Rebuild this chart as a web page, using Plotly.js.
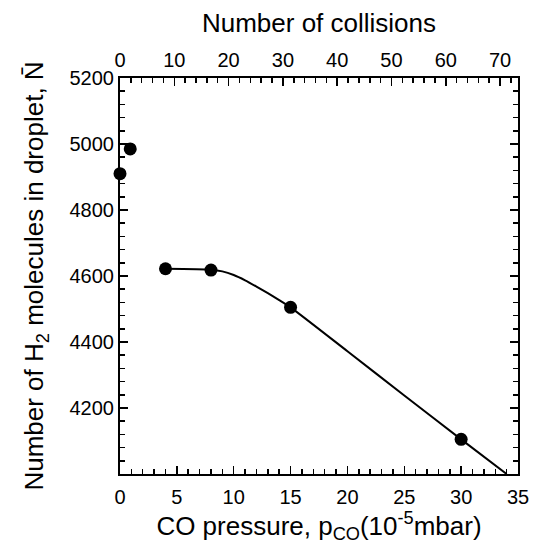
<!DOCTYPE html>
<html><head><meta charset="utf-8">
<script src="https://cdn.plot.ly/plotly-3.0.1.min.js"></script>
<style>body{margin:0;background:#fff}#chart{width:537px;height:555px}</style>
</head><body><div id="chart"></div>
<script>
// measured points: CO pressure (1e-5 mbar) vs number of H2 molecules
const pressure = [0, 0.9, 4, 8, 15, 30];
const moleculesN = [4910, 4985, 4622, 4618, 4505, 4105];
// guide line drawn through the data
const fitPressure = [4, 8, 9, 10, 11, 12, 13, 14, 15, 20, 25, 30, 34];
const fitN = [4622, 4619, 4614, 4603, 4587, 4568, 4548, 4527, 4505, 4372, 4238, 4105, 4000];
// tick labels
const yTicks = [4200, 4400, 4600, 4800, 5000, 5200];
const xTicks = [0, 5, 10, 15, 20, 25, 30, 35];
const topTicks = [0, 10, 20, 30, 40, 50, 60, 70];

const FONT = 'Liberation Sans, Arial, sans-serif';
const traces = [
  {x: fitPressure, y: fitN, mode: 'lines', line: {color: '#000', width: 2, shape: 'spline', smoothing: 0.6},
   hoverinfo: 'skip', showlegend: false, cliponaxis: true},
  {x: pressure, y: moleculesN, mode: 'markers', marker: {color: '#000', size: 13},
   showlegend: false, cliponaxis: false},
  {x: [0], y: [null], xaxis: 'x2', yaxis: 'y', mode: 'markers', showlegend: false, hoverinfo: 'skip'}
];
const tickfont = {family: FONT, size: 20, color: '#000'};
const titlefont = {family: FONT, size: 26, color: '#000'};
const layout = {
  width: 537, height: 555,
  margin: {l: 120, r: 19, t: 78, b: 81},
  paper_bgcolor: '#fff', plot_bgcolor: '#fff',
  font: {family: FONT, color: '#000'},
  xaxis: {
    range: [0, 35], tickmode: 'array', tickvals: xTicks, ticktext: xTicks.map(String),
    ticks: 'inside', ticklen: 8, tickwidth: 1.5, tickcolor: '#000',
    minor: {dtick: 1, ticks: 'inside', ticklen: 5, tickwidth: 1.5, tickcolor: '#000'},
    showline: true, linecolor: '#000', linewidth: 2, mirror: true,
    showgrid: false, zeroline: false, tickfont: tickfont, ticklabelstandoff: 4,
    title: {text: 'CO pressure, p<sub>CO</sub>(10<sup>-5</sup>mbar)', font: titlefont, standoff: 6}
  },
  xaxis2: {
    overlaying: 'x', side: 'top', anchor: 'y', range: [0, 73.3],
    tickmode: 'array', tickvals: topTicks, ticktext: topTicks.map(String),
    ticks: 'inside', ticklen: 8, tickwidth: 1.5, tickcolor: '#000',
    minor: {dtick: 2, ticks: 'inside', ticklen: 5, tickwidth: 1.5, tickcolor: '#000'},
    showline: false, showgrid: false, zeroline: false, tickfont: tickfont, ticklabelstandoff: 6,
    title: {text: 'Number of collisions', font: titlefont, standoff: 8}
  },
  yaxis: {
    range: [4000, 5200], tickmode: 'array', tickvals: yTicks, ticktext: yTicks.map(String),
    ticks: 'inside', ticklen: 8, tickwidth: 1.5, tickcolor: '#000',
    minor: {dtick: 40, tick0: 4000, ticks: 'inside', ticklen: 5, tickwidth: 1.5, tickcolor: '#000'},
    showline: true, linecolor: '#000', linewidth: 2, mirror: 'ticks',
    showgrid: false, zeroline: false, tickfont: tickfont, ticklabelstandoff: 0,
    title: {text: 'Number of H<sub>2</sub> molecules in droplet, N\u0304', font: titlefont, standoff: 18}
  }
};
Plotly.newPlot('chart', traces, layout, {staticPlot: true, displayModeBar: false});
</script></body></html>
